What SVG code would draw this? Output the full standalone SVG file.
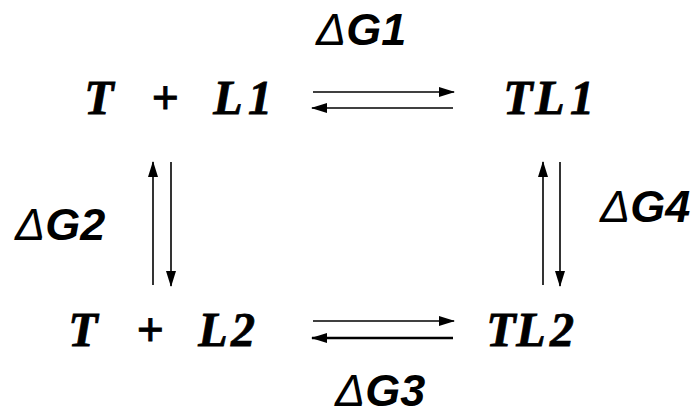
<svg xmlns="http://www.w3.org/2000/svg" width="700" height="417" viewBox="0 0 700 417">
<style>
.sp{font-family:"Liberation Serif","Times New Roman",serif;font-weight:bold;font-style:italic;font-size:48px;fill:#000;stroke:#000;stroke-width:0.8;text-anchor:middle}
.dg{font-family:"Liberation Sans",Arial,sans-serif;font-weight:bold;font-style:italic;font-size:45px;fill:#000}
.d{font-weight:normal}
.ln{stroke:#000;stroke-width:1.6;fill:none}
.lt{stroke:#000;stroke-width:2.6;fill:none}
</style>
<defs>
<marker id="ah" viewBox="0 0 16 10" refX="15" refY="5" markerWidth="16" markerHeight="10" markerUnits="userSpaceOnUse" orient="auto">
<path d="M0,0 L16,5 L0,10 Z" fill="#000"/>
</marker>
</defs>
<rect width="700" height="417" fill="#fff"/>
<g id="T_L1"><text class="sp" x="99 165 228 260" y="114">T+L1</text></g>
<g id="TL1"><text class="sp" x="518 550 582" y="114">TL1</text></g>
<g id="T_L2"><text class="sp" x="83 150 213 243" y="346">T+L2</text></g>
<g id="TL2"><text class="sp" x="501 531 562" y="346">TL2</text></g>
<g id="labels">
<text class="dg" x="316" y="45"><tspan class="d">Δ</tspan>G1</text>
<text class="dg" x="15" y="240"><tspan class="d">Δ</tspan>G2</text>
<text class="dg" x="335" y="406"><tspan class="d">Δ</tspan>G3</text>
<text class="dg" x="600" y="222"><tspan class="d">Δ</tspan>G4</text>
</g>
<g id="connectors">
<line class="ln" x1="313" y1="92" x2="454" y2="92" marker-end="url(#ah)"/>
<line class="ln" x1="453" y1="108" x2="312" y2="108" marker-end="url(#ah)"/>
<line class="ln" x1="153" y1="285" x2="153" y2="162" marker-end="url(#ah)"/>
<line class="ln" x1="171" y1="162" x2="171" y2="286" marker-end="url(#ah)"/>
<line class="ln" x1="543" y1="285" x2="543" y2="162" marker-end="url(#ah)"/>
<line class="ln" x1="560" y1="162" x2="560" y2="286" marker-end="url(#ah)"/>
<line class="ln" x1="313" y1="321" x2="454" y2="321" marker-end="url(#ah)"/>
<line class="lt" x1="453" y1="338" x2="312" y2="338" marker-end="url(#ah)"/>
</g>
</svg>
